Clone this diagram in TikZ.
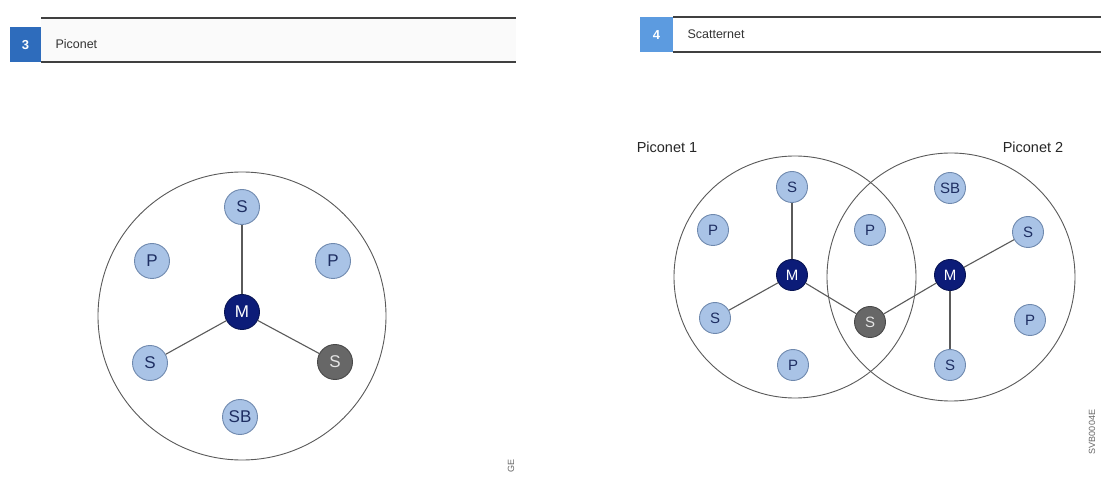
\documentclass[tikz,border=0pt]{standalone}
\usepackage{fontspec}
\setmainfont{Liberation Sans}
\definecolor{nodefill}{HTML}{A9C3E6}
\definecolor{nodeedge}{HTML}{6F89AE}
\definecolor{nodetext}{HTML}{1E2E62}
\definecolor{master}{HTML}{0C1C78}
\definecolor{darkslave}{HTML}{676767}
\definecolor{ringline}{HTML}{5A5A5A}
\definecolor{hdrblue}{HTML}{2E6CBC}
\definecolor{hdrblueb}{HTML}{5C9BE0}
\tikzset{
  dev/.style={circle,draw=nodeedge,fill=nodefill,line width=0.9pt,text=nodetext,inner sep=0pt},
  big/.style={minimum size=35pt,font=\fontsize{17}{17}\selectfont},
  small/.style={minimum size=31pt,font=\fontsize{15}{15}\selectfont},
  mst/.style={dev,fill=master,draw=master!70!black,text=white},
  dks/.style={dev,fill=darkslave,draw=darkslave!70!black,text=white!80!gray},
  ring/.style={draw=ringline,line width=0.9pt},
  link/.style={draw=ringline,line width=1.1pt},
  hdrline/.style={draw=black!75,line width=1.3pt},
  hdrtext/.style={anchor=west,font=\fontsize{12.5}{12.5}\selectfont,text=black!80},
  lbl/.style={font=\fontsize{14.5}{14.5}\selectfont,text=black!85},
  side/.style={rotate=90,font=\fontsize{9}{9}\selectfont,text=black!60}
}
\begin{document}
\begin{tikzpicture}[x=1pt,y=-1pt]
\useasboundingbox (0,0) rectangle (1101,494);
\fill[white] (0,0) rectangle (1101,494);
% ---------- left header ----------
\fill[hdrblue] (10,27) rectangle (41,62);
\node[font=\fontsize{13}{13}\selectfont\bfseries,text=white] (n3) at (25.5,45) {3};
\fill[black!2] (41,18) rectangle (516,62);
\draw[hdrline] (41,18) -- (516,18);
\draw[hdrline] (41,62) -- (516,62);
\node[hdrtext] (t3) at (52,44) {Piconet};
% ---------- right header ----------
\fill[hdrblueb] (640,17) rectangle (673,52);
\node[font=\fontsize{13}{13}\selectfont\bfseries,text=white] (n4) at (656.5,35) {4};
\draw[hdrline] (673,17) -- (1101,17);
\draw[hdrline] (673,52) -- (1101,52);
\node[hdrtext] (t4) at (684,34) {Scatternet};
% ---------- left piconet ----------
\draw[ring] (242,316) circle[radius=144];
\node[mst,big] (m) at (242,312) {M};
\node[dev,big] (st) at (242,207) {S};
\node[dev,big] (pl) at (152,261) {P};
\node[dev,big] (pr) at (333,261) {P};
\node[dev,big] (sl) at (150,363) {S};
\node[dks,big] (sr) at (335,362) {S};
\node[dev,big] (sb) at (240,417) {SB};
\draw[link] (m) -- (st);
\draw[link] (m) -- (sl);
\draw[link] (m) -- (sr);
\node[side] (c1) at (511,466) {GE};
% ---------- scatternet ----------
\draw[ring] (795,277) circle[radius=121];
\draw[ring] (951,277) circle[radius=124];
\node[lbl] (p1) at (667,147) {Piconet 1};
\node[lbl] (p2) at (1033,147) {Piconet 2};
\node[mst,small] (m1) at (792,275) {M};
\node[mst,small] (m2) at (950,275) {M};
\node[dev,small] (s1t) at (792,187) {S};
\node[dev,small] (p1l) at (713,230) {P};
\node[dev,small] (s1l) at (715,318) {S};
\node[dev,small] (p1b) at (793,365) {P};
\node[dev,small] (pm) at (870,230) {P};
\node[dks,small] (sm) at (870,322) {S};
\node[dev,small] (sb2) at (950,188) {SB};
\node[dev,small] (s2r) at (1028,232) {S};
\node[dev,small] (p2r) at (1030,320) {P};
\node[dev,small] (s2b) at (950,365) {S};
\draw[link] (m1) -- (s1t);
\draw[link] (m1) -- (s1l);
\draw[link] (m1) -- (sm);
\draw[link] (m2) -- (sm);
\draw[link] (m2) -- (s2r);
\draw[link] (m2) -- (s2b);
\node[side] (c2) at (1092,432) {SVB0004E};
\end{tikzpicture}
\end{document}
